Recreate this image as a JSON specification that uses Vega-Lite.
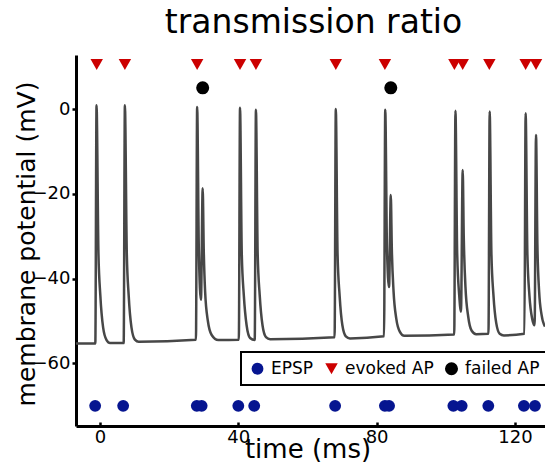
{
  "$schema": "https://vega.github.io/schema/vega-lite/v6.json",
  "width": 469,
  "height": 371,
  "autosize": "none",
  "padding": {"left": 76, "top": 55, "right": 0, "bottom": 48},
  "background": "white",
  "title": {
    "text": "transmission ratio",
    "font": "DejaVu Sans",
    "fontSize": 33,
    "fontWeight": "normal",
    "color": "black",
    "anchor": "middle",
    "frame": "group",
    "offset": 15,
    "dx": 3
  },
  "config": {
    "view": {"stroke": null},
    "axis": {
      "grid": false,
      "domainColor": "black",
      "domainWidth": 3,
      "tickColor": "black",
      "tickWidth": 2.5,
      "labelFont": "DejaVu Sans",
      "labelFontSize": 18,
      "labelColor": "black",
      "titleFont": "DejaVu Sans",
      "titleFontSize": 26,
      "titleFontWeight": "normal",
      "titleColor": "black"
    },
    "legend": {
      "orient": "none",
      "direction": "horizontal",
      "strokeColor": "black",
      "padding": 8,
      "fillColor": "white",
      "labelFont": "DejaVu Sans",
      "labelFontSize": 17,
      "labelColor": "black",
      "labelOffset": 5,
      "columnPadding": 9,
      "symbolSize": 160,
      "symbolStrokeWidth": 0,
      "symbolOpacity": 1
    }
  },
  "datasets": {
    "trace": [
      {"t": -7, "v": -55.3}, {"t": -1.35, "v": -55.3},
      {"t": -1.0, "v": 0.9}, {"t": -0.45, "v": -34}, {"t": 0.1, "v": -44}, {"t": 0.9, "v": -51.5}, {"t": 1.9, "v": -54.5}, {"t": 2.9, "v": -55.2}, {"t": 6.85, "v": -55.2},
      {"t": 7.2, "v": 0.9}, {"t": 7.75, "v": -34}, {"t": 8.3, "v": -44}, {"t": 9.1, "v": -51.5}, {"t": 10.1, "v": -54.4}, {"t": 11.2, "v": -54.9}, {"t": 27.75, "v": -54.4},
      {"t": 28.1, "v": 0.5}, {"t": 28.6, "v": -34}, {"t": 29.2, "v": -45}, {"t": 29.7, "v": -18.7}, {"t": 30.0, "v": -33}, {"t": 30.4, "v": -43}, {"t": 31.2, "v": -50}, {"t": 32.3, "v": -53.3}, {"t": 34.2, "v": -54.5}, {"t": 40.15, "v": -54.4},
      {"t": 40.5, "v": 0.3}, {"t": 41.0, "v": -34}, {"t": 41.6, "v": -44}, {"t": 42.4, "v": -51}, {"t": 43.4, "v": -54}, {"t": 44.75, "v": -54.5},
      {"t": 45.1, "v": -0.2}, {"t": 45.6, "v": -34}, {"t": 46.2, "v": -44}, {"t": 47.0, "v": -51}, {"t": 48.0, "v": -53.8}, {"t": 49.2, "v": -54.3}, {"t": 67.85, "v": -53.8},
      {"t": 68.2, "v": 0.0}, {"t": 68.7, "v": -34}, {"t": 69.3, "v": -44}, {"t": 70.1, "v": -51}, {"t": 71.1, "v": -53.6}, {"t": 72.3, "v": -54.1}, {"t": 82.15, "v": -53.6},
      {"t": 82.5, "v": -0.2}, {"t": 83.0, "v": -33}, {"t": 83.6, "v": -42}, {"t": 84.1, "v": -20.3}, {"t": 84.4, "v": -33}, {"t": 84.9, "v": -43}, {"t": 85.7, "v": -49.5}, {"t": 86.7, "v": -52.5}, {"t": 88.0, "v": -53.5}, {"t": 102.45, "v": -53.2},
      {"t": 102.8, "v": -0.4}, {"t": 103.3, "v": -34}, {"t": 103.9, "v": -44}, {"t": 104.4, "v": -47.8}, {"t": 104.9, "v": -14.4}, {"t": 105.2, "v": -30}, {"t": 105.7, "v": -42}, {"t": 106.5, "v": -49}, {"t": 107.5, "v": -52.3}, {"t": 108.8, "v": -53.1}, {"t": 112.35, "v": -53.0},
      {"t": 112.7, "v": -0.6}, {"t": 113.2, "v": -34}, {"t": 113.8, "v": -44}, {"t": 114.6, "v": -50.5}, {"t": 115.6, "v": -53}, {"t": 116.8, "v": -53.4}, {"t": 122.75, "v": -53.0},
      {"t": 123.1, "v": -1.0}, {"t": 123.6, "v": -34}, {"t": 124.2, "v": -44}, {"t": 125.0, "v": -49.5}, {"t": 125.7, "v": -51}, {"t": 126.1, "v": -6.1}, {"t": 126.5, "v": -32}, {"t": 127.0, "v": -43}, {"t": 127.7, "v": -48.5}, {"t": 128.7, "v": -51.3}
    ],
    "markers": [
      {"t": -1.4, "v": -70, "type": "EPSP"}, {"t": 6.7, "v": -70, "type": "EPSP"}, {"t": 28.0, "v": -70, "type": "EPSP"}, {"t": 29.4, "v": -70, "type": "EPSP"},
      {"t": 40.0, "v": -70, "type": "EPSP"}, {"t": 44.6, "v": -70, "type": "EPSP"}, {"t": 68.0, "v": -70, "type": "EPSP"}, {"t": 82.4, "v": -70, "type": "EPSP"},
      {"t": 83.6, "v": -70, "type": "EPSP"}, {"t": 102.2, "v": -70, "type": "EPSP"}, {"t": 104.6, "v": -70, "type": "EPSP"}, {"t": 112.3, "v": -70, "type": "EPSP"},
      {"t": 122.6, "v": -70, "type": "EPSP"}, {"t": 125.8, "v": -70, "type": "EPSP"},
      {"t": -0.95, "v": 10.5, "type": "evoked AP"}, {"t": 7.2, "v": 10.5, "type": "evoked AP"}, {"t": 28.1, "v": 10.5, "type": "evoked AP"}, {"t": 40.5, "v": 10.5, "type": "evoked AP"},
      {"t": 45.1, "v": 10.5, "type": "evoked AP"}, {"t": 68.2, "v": 10.5, "type": "evoked AP"}, {"t": 82.4, "v": 10.5, "type": "evoked AP"}, {"t": 102.5, "v": 10.5, "type": "evoked AP"},
      {"t": 104.9, "v": 10.5, "type": "evoked AP"}, {"t": 112.6, "v": 10.5, "type": "evoked AP"}, {"t": 123.1, "v": 10.5, "type": "evoked AP"}, {"t": 126.1, "v": 10.5, "type": "evoked AP"},
      {"t": 29.7, "v": 5, "type": "failed AP"}, {"t": 84.1, "v": 5, "type": "failed AP"}
    ]
  },
  "encoding": {
    "x": {
      "field": "t", "type": "quantitative",
      "scale": {"domain": [-6.94, 128.7], "nice": false, "zero": false},
      "axis": {"values": [0, 40, 80, 120], "title": "time (ms)", "tickSize": -4, "labelPadding": 6,
               "titleX": 231.5, "titleY": 31, "titleBaseline": "alphabetic", "titleAnchor": "middle", "titleAlign": "center"}
    },
    "y": {
      "field": "v", "type": "quantitative",
      "scale": {"domain": [-74.76, 12.74], "nice": false, "zero": false},
      "axis": {"values": [0, -20, -40, -60], "title": "membrane potential (mV)", "tickSize": 4, "labelPadding": 2,
               "titleFontSize": 25,
               "titleX": -50, "titleY": 188.5, "titleAngle": -90, "titleBaseline": "middle", "titleAlign": "center", "titleAnchor": "middle"}
    }
  },
  "layer": [
    {
      "data": {"name": "trace"},
      "mark": {"type": "line", "color": "#474747", "strokeWidth": 2.5, "interpolate": "monotone", "clip": true},
      "encoding": {"order": {"field": "t", "type": "quantitative"}}
    },
    {
      "data": {"name": "markers"},
      "mark": {"type": "point", "filled": true, "opacity": 1, "clip": false},
      "encoding": {
        "color": {
          "field": "type", "type": "nominal",
          "scale": {"domain": ["EPSP", "evoked AP", "failed AP"], "range": ["#061590", "#cc0000", "#000000"]},
          "legend": {"title": null, "legendX": 165, "legendY": 297,
                     "encode": {"legend": {"update": {"strokeWidth": {"value": 2}}}}}
        },
        "shape": {
          "field": "type", "type": "nominal",
          "scale": {"domain": ["EPSP", "evoked AP", "failed AP"], "range": ["circle", "triangle-down", "circle"]},
          "legend": {"title": null, "legendX": 165, "legendY": 297,
                     "encode": {"legend": {"update": {"strokeWidth": {"value": 2}}}}}
        },
        "size": {
          "field": "type", "type": "nominal",
          "scale": {"domain": ["EPSP", "evoked AP", "failed AP"], "range": [140, 170, 100]},
          "legend": null
        }
      }
    }
  ]
}
